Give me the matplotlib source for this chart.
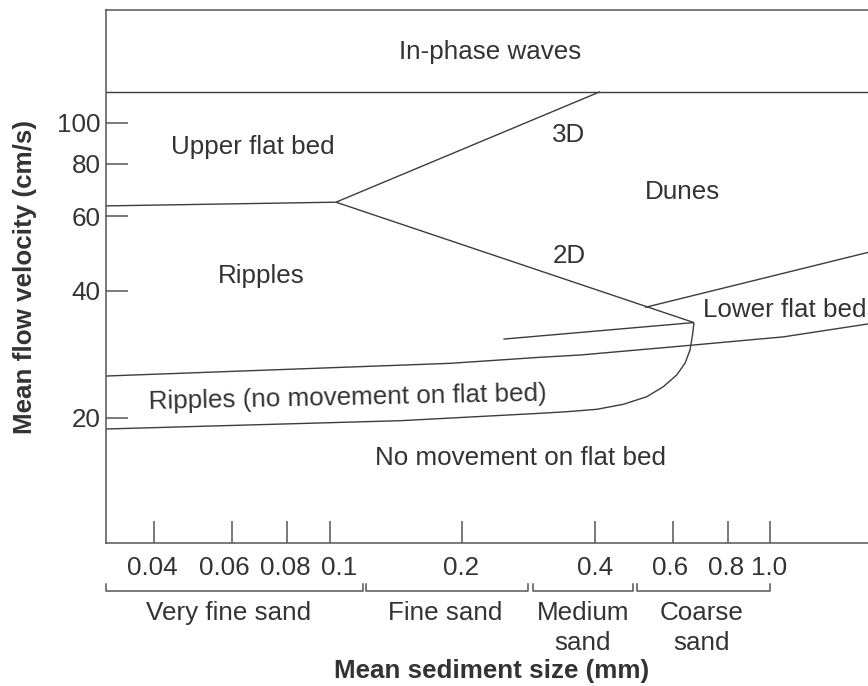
import matplotlib
matplotlib.use('Agg')
import matplotlib.pyplot as plt
from matplotlib import transforms

plt.rcParams['font.family'] = ['Liberation Sans', 'DejaVu Sans']

# ---------------- data ----------------
x_ticks = [0.04, 0.06, 0.08, 0.1, 0.2, 0.4, 0.6, 0.8, 1.0]
x_tick_labels = ['0.04', '0.06', '0.08', '0.1', '0.2', '0.4', '0.6', '0.8', '1.0']
y_ticks = [20, 40, 60, 80, 100]
y_tick_labels = ['20', '40', '60', '80', '100']

# phase boundaries (mean sediment size mm, mean flow velocity cm/s)
inphase_x = [0.0311, 1.70]
inphase_y = [118.4, 118.4]
upperflat_x = [0.0311, 0.1034]
upperflat_y = [63.5, 64.8]
dunes3d_x = [0.1034, 0.411]
dunes3d_y = [64.8, 118.4]
dunes2d_x = [0.1034, 0.671]
dunes2d_y = [64.8, 33.6]
lowerflat_top_x = [0.520, 1.67]
lowerflat_top_y = [36.5, 49.3]
nose_left_x = [0.248, 0.671]
nose_left_y = [30.7, 33.6]
nose_curve_x = [0.671, 0.6669, 0.6575, 0.6404, 0.6133, 0.5719, 0.5244, 0.4640,
                0.4038, 0.3452, 0.3002, 0.1446, 0.0311]
nose_curve_y = [33.6, 31.70, 28.93, 26.91, 25.25, 23.68, 22.42, 21.51,
                20.93, 20.66, 20.48, 19.67, 18.8]
ripple_top_x = [0.0311, 0.1877, 0.3002, 0.3704, 0.6349, 0.7689, 1.0686, 1.666]
ripple_top_y = [25.1, 26.9, 27.8, 28.15, 29.58, 30.12, 31.07, 33.35]

# region labels
region_labels = ['In-phase waves', 'Upper flat bed', '3D', 'Dunes', '2D', 'Ripples',
                 'Lower flat bed', 'Ripples (no movement on flat bed)',
                 'No movement on flat bed']
region_x = [0.2310, 0.0671, 0.3494, 0.6305, 0.3494, 0.0701, 1.080, 0.1101, 0.2707]
region_y = [147.3, 87.7, 93.5, 68.5, 48.3, 43.3, 35.98, 22.26, 16.05]
region_rot = [0, 0, 0, 0, 0, 0, 0, 1.2, 0]

# sand classes (bracket extents in mm)
class_names = ['Very fine sand', 'Fine sand', 'Medium', 'Coarse']
class_names2 = ['', '', 'sand', 'sand']
class_lo = [0.0311, 0.1210, 0.2901, 0.4993]
class_hi = [0.1193, 0.2825, 0.4889, 1.0]
class_center = [0.0590, 0.1829, 0.3758, 0.7000]

# ---------------- style ----------------
W, H = 868, 686
FS = 18.7
TXT = '#333333'
LINE = '#3c3c3c'
AX = '#555555'
x_label_dx = [-2, -7, -2, 10, -1, 0, -2, -2, -1]   # pixel nudges of tick labels

fig = plt.figure(figsize=(W / 100, H / 100), dpi=100)
ax = fig.add_axes([106 / W, (H - 542.7) / H, 1 - 106 / W, (542.7 - 10) / H])
ax.set_xscale('log')
ax.set_yscale('log')
ax.set_xlim(0.0311, 1.666)
ax.set_ylim(10.11, 184.9)

for s in ['left', 'bottom', 'top']:
    ax.spines[s].set_color(AX)
    ax.spines[s].set_linewidth(1.1)
ax.spines['right'].set_visible(False)

ax.xaxis.set_minor_locator(matplotlib.ticker.NullLocator())
ax.yaxis.set_minor_locator(matplotlib.ticker.NullLocator())
ax.set_yticks(y_ticks)
ax.set_yticklabels(y_tick_labels)
ax.set_xticks(x_ticks)
ax.set_xticklabels([])
ax.tick_params(axis='both', which='major', direction='in', length=15.8, width=1.1,
               color=AX)
ax.tick_params(axis='y', labelsize=FS, labelcolor=TXT, pad=4)
ax.tick_params(axis='x', pad=0)

lw = 1.0
for xs, ys in [(inphase_x, inphase_y), (upperflat_x, upperflat_y),
               (dunes3d_x, dunes3d_y), (dunes2d_x, dunes2d_y),
               (lowerflat_top_x, lowerflat_top_y), (nose_left_x, nose_left_y),
               (nose_curve_x, nose_curve_y), (ripple_top_x, ripple_top_y)]:
    ax.plot(xs, ys, color=LINE, lw=lw, solid_capstyle='butt')

for t, x, y, r in zip(region_labels, region_x, region_y, region_rot):
    ax.text(x, y, t, ha='center', va='center', fontsize=FS, color=TXT,
            rotation=r, rotation_mode='anchor')

# x tick labels
blend = transforms.blended_transform_factory(ax.transData, fig.transFigure)
for v, lab, dx in zip(x_ticks, x_tick_labels, x_label_dx):
    tr = blend + transforms.ScaledTranslation(dx / 100, 0, fig.dpi_scale_trans)
    ax.text(v, (H - 575) / H, lab, transform=tr, ha='center', va='baseline',
            fontsize=FS, color=TXT, clip_on=False)

# brackets
yl = (H - 591) / H
yt = (H - 584) / H
for lo, hi, c, n1, n2 in zip(class_lo, class_hi, class_center, class_names, class_names2):
    ax.plot([lo, lo, hi, hi], [yt, yl, yl, yt], transform=blend, color=AX,
            lw=1.1, clip_on=False)
    ax.text(c, (H - 620) / H, n1, transform=blend, ha='center', va='baseline',
            fontsize=FS, color=TXT, clip_on=False)
    if n2:
        ax.text(c, (H - 650) / H, n2, transform=blend, ha='center', va='baseline',
                fontsize=FS, color=TXT, clip_on=False)

fig.text(491.7 / W, (H - 678) / H, 'Mean sediment size (mm)', ha='center',
         va='baseline', fontsize=FS, fontweight='bold', color=TXT)
fig.text(25 / W, (H - 276.7) / H, 'Mean flow velocity (cm/s)', ha='center',
         va='center', rotation=90, fontsize=FS, fontweight='bold', color=TXT)

fig.savefig('out.png', dpi=100)
